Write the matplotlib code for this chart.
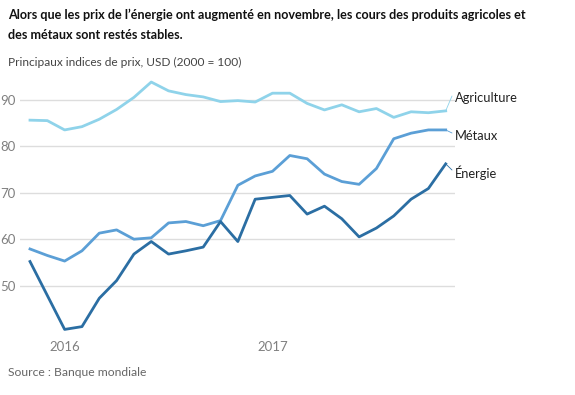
import matplotlib
matplotlib.use("Agg")
import matplotlib.pyplot as plt

plt.rcParams['font.family'] = ['Lato', 'DejaVu Sans']

# Monthly indices, Nov 2015 -> Nov 2017
months = list(range(25))
agriculture = [85.6, 85.5, 83.5, 84.2, 85.8, 87.9, 90.5, 93.8, 91.9, 91.1, 90.6, 89.6, 89.8,
               89.5, 91.4, 91.4, 89.2, 87.8, 88.9, 87.4, 88.1, 86.2, 87.4, 87.2, 87.6]
metaux = [57.9, 56.5, 55.3, 57.5, 61.3, 62.0, 60.0, 60.3, 63.5, 63.8, 62.9, 64.0, 71.6,
          73.6, 74.6, 78.0, 77.3, 74.0, 72.4, 71.8, 75.2, 81.6, 82.8, 83.5, 83.5]
energie = [55.2, 47.9, 40.6, 41.2, 47.3, 51.1, 56.8, 59.5, 56.8, 57.5, 58.3, 63.8, 59.5,
           68.6, 69.0, 69.4, 65.4, 67.1, 64.4, 60.5, 62.4, 65.0, 68.6, 70.9, 76.2]

year_ticks = [2, 14]
year_labels = ['2016', '2017']
y_ticks = [50, 60, 70, 80, 90]

series = [
    ('Agriculture', agriculture, '#8fd3ea', 98),
    ('Métaux', metaux, '#5b9fd6', 136),
    ('Énergie', energie, '#2b6ea3', 173),
]

W, H = 575, 395
fig = plt.figure(figsize=(W / 100, H / 100), dpi=100)

# axes placed in pixel terms: gridlines run from x=20 to x=455
left, right, top, bottom = 20, 455, 75, 335
ax = fig.add_axes([left / W, 1 - bottom / H, (right - left) / W, (bottom - top) / H])

px_per_month = (445.7 - 30) / 24
ax.set_xlim(-(30 - left) / px_per_month, 24 + (right - 445.7) / px_per_month)
px_per_unit = 4.65
ax.set_ylim(90 - (bottom - 99.7) / px_per_unit, 90 + (99.7 - top) / px_per_unit)

for name, vals, color, label_y in series:
    ax.plot(months, vals, color=color, lw=2, solid_joinstyle='round', clip_on=False)

ax.set_yticks(y_ticks)
ax.set_yticklabels([str(v) for v in y_ticks])
ax.set_xticks(year_ticks)
ax.set_xticklabels(year_labels)
ax.tick_params(axis='both', length=0, labelsize=9.5, labelcolor='#808080')
ax.tick_params(axis='y', pad=3)
ax.tick_params(axis='x', pad=4)
ax.grid(axis='y', color='#dddddd', lw=1)
ax.set_axisbelow(True)
for s in ax.spines.values():
    s.set_visible(False)

# series labels with small leader lines
for name, vals, color, label_y in series:
    fig.text(455 / W, 1 - label_y / H, name, fontsize=9.3, color='#222222',
             ha='left', va='center')
    ax.annotate('', xy=(24, vals[-1]), xycoords='data',
                xytext=(452 / W, 1 - (label_y - 2 if name == 'Agriculture' else label_y - 3) / H),
                textcoords='figure fraction',
                arrowprops=dict(arrowstyle='-', color=color, lw=0.6, shrinkA=0, shrinkB=0))

fig.text(8 / W, 1 - 15 / H,
         "Alors que les prix de l\u2019énergie ont augmenté en novembre, les cours des produits agricoles et",
         fontsize=9.05, fontweight='bold', color='#111111', va='center')
fig.text(8 / W, 1 - 35 / H, "des métaux sont restés stables.",
         fontsize=9.05, fontweight='bold', color='#111111', va='center')
fig.text(8 / W, 1 - 62 / H, "Principaux indices de prix, USD (2000 = 100)",
         fontsize=8.6, color='#444444', va='center')
fig.text(8 / W, 1 - 372 / H, "Source : Banque mondiale",
         fontsize=8.7, color='#666666', va='center')

fig.savefig('out.png', dpi=100)
